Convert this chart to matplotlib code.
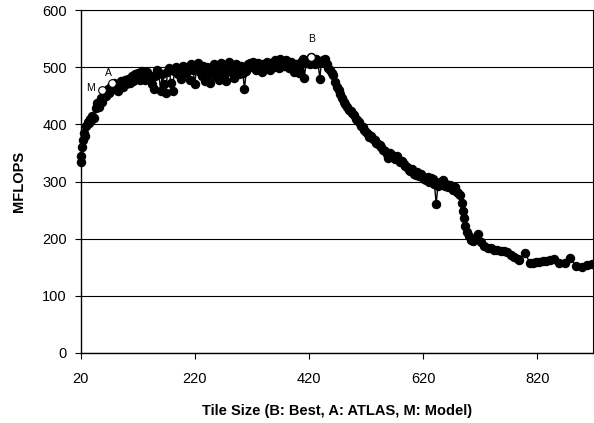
import matplotlib
matplotlib.use("Agg")
import matplotlib.pyplot as plt

plt.rcParams['font.family'] = ['Liberation Sans', 'DejaVu Sans']

tile_size = [20, 21, 22, 24, 26, 28, 30, 32, 34, 36, 38, 40, 43, 46, 49, 52, 55, 58, 61, 64,
             67, 70, 73, 76, 79, 82, 85, 88, 91, 94, 97, 100, 103, 106, 109, 112, 115, 118, 121, 124,
             127, 130, 133, 136, 139, 142, 145, 148, 151, 154, 157, 160, 163, 166, 169, 172, 175, 178, 181, 184,
             187, 190, 193, 196, 199, 202, 205, 208, 211, 214, 217, 220, 223, 226, 229, 232, 235, 238, 241, 244,
             247, 250, 253, 256, 259, 262, 265, 268, 271, 274, 277, 280, 283, 286, 289, 292, 295, 298, 301, 304,
             307, 310, 313, 316, 319, 322, 325, 328, 331, 334, 337, 340, 343, 346, 349, 352, 355, 358, 361, 364,
             367, 370, 373, 376, 379, 382, 385, 388, 391, 394, 397, 400, 403, 406, 409, 412, 415, 418, 421, 424,
             427, 430, 433, 436, 439, 442, 445, 448, 451, 454, 457, 460, 463, 466, 469, 472, 475, 478, 481, 484,
             487, 490, 493, 496, 499, 502, 505, 508, 511, 514, 517, 520, 523, 526, 529, 532, 535, 538, 541, 544,
             547, 550, 553, 556, 559, 562, 565, 568, 571, 574, 577, 580, 583, 586, 589, 592, 595, 598, 601, 604,
             607, 610, 613, 616, 619, 622, 625, 628, 631, 634, 637, 640, 643, 646, 649, 652, 655, 658, 661, 664,
             667, 670, 673, 676, 679, 682, 685, 688, 690, 692, 694, 697, 700, 704, 708, 712, 717, 722, 727, 733,
             739, 745, 750, 756, 762, 768, 774, 780, 786, 789, 799, 807, 813, 818, 824, 830, 835, 842, 850, 859,
             869, 878, 888, 898, 908, 917]

mflops = [345, 335, 360, 372, 385, 380, 398, 405, 402, 410, 408, 415, 412, 428, 438, 430, 447, 440, 456, 450,
          462, 455, 468, 462, 472, 465, 458, 470, 476, 466, 478, 470, 480, 472, 485, 476, 488, 480, 490, 478,
          494, 484, 478, 492, 486, 480, 470, 462, 485, 495, 490, 458, 488, 470, 455, 492, 498, 472, 458, 494,
          500, 488, 496, 480, 503, 495, 490, 500, 478, 505, 496, 470, 500, 507, 492, 485, 502, 476, 500, 490,
          472, 496, 505, 485, 500, 478, 508, 495, 487, 476, 500, 510, 492, 498, 482, 505, 496, 488, 502, 490,
          462, 493, 505, 508, 500, 510, 504, 495, 508, 500, 492, 505, 498, 510, 502, 496, 508, 500, 512, 506,
          498, 515, 508, 502, 512, 505, 498, 510, 502, 492, 505, 498, 490, 510, 515, 482, 508, 512, 505, 518,
          510, 505, 514, 508, 480, 510, 512, 515, 505, 498, 495, 490, 486, 475, 466, 460, 454, 446, 440, 436,
          430, 426, 424, 420, 416, 410, 408, 404, 398, 395, 390, 386, 384, 378, 380, 374, 372, 368, 366, 364,
          360, 356, 354, 348, 341, 350, 346, 344, 340, 344, 338, 334, 336, 330, 328, 326, 320, 318, 322, 314,
          312, 316, 310, 314, 308, 304, 302, 308, 300, 306, 304, 296, 261, 292, 300, 296, 302, 292, 296, 290,
          294, 288, 286, 290, 282, 280, 276, 262, 248, 236, 222, 212, 205, 197, 196, 200, 209, 195, 187, 184,
          183, 181, 180, 179, 178, 176, 172, 168, 164, 162, 175, 158, 158, 159, 160, 161, 161, 162, 164, 157,
          157, 166, 152, 150, 154, 155]

mark_labels = ['M', 'A', 'B']
mark_x = [58, 75, 424]
mark_y = [460, 472, 518]
label_x = [38, 68, 425]
label_y = [463, 490, 549]

x_ticks = [20, 220, 420, 620, 820]
y_ticks = [0, 100, 200, 300, 400, 500, 600]

fig = plt.figure(figsize=(5.94, 4.23), dpi=100)
ax = fig.add_axes([0.1359, 0.1655, 0.8625, 0.8105])

ax.set_xlim(20, 918)
ax.set_ylim(0, 600)
ax.set_yticks(y_ticks)
ax.set_xticks(x_ticks)
ax.grid(axis='y', color='black', linewidth=0.8)
ax.set_axisbelow(True)

ax.plot(tile_size, mflops, color='black', linewidth=1.0, marker='o',
        markersize=5.8, markerfacecolor='black', markeredgecolor='black',
        zorder=3, clip_on=False)

ax.plot(mark_x, mark_y, linestyle='none', marker='o', markersize=5.5,
        markerfacecolor='white', markeredgecolor='black', markeredgewidth=0.8, zorder=4)

for lab, lx, ly in zip(mark_labels, label_x, label_y):
    ax.text(lx, ly, lab, fontsize=7.5, ha='center', va='center', zorder=5)

for sp in ['top', 'right']:
    ax.spines[sp].set_visible(True)
    ax.spines[sp].set_linewidth(0.8)
ax.spines['left'].set_linewidth(1.0)
ax.spines['bottom'].set_linewidth(1.0)

ax.tick_params(axis='both', direction='out', length=4, width=0.8, labelsize=10.5, pad=6)
ax.tick_params(axis='x', pad=10)

ax.set_xlabel('Tile Size (B: Best, A: ATLAS, M: Model)', fontsize=10.5, fontweight='bold', labelpad=13)
ax.set_ylabel('MFLOPS', fontsize=10.5, fontweight='bold', labelpad=12)

fig.savefig('out.png', dpi=100)
